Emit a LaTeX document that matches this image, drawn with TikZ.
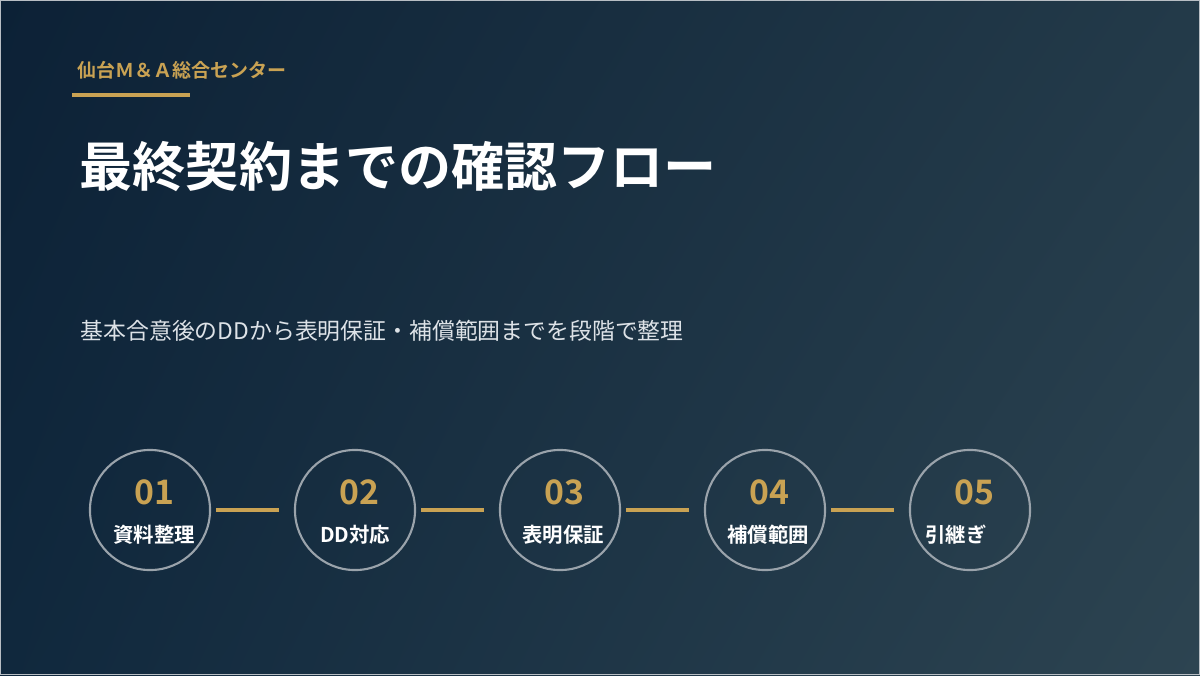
\documentclass[tikz,border=0pt]{standalone}
\usepackage{fontspec}
\setmainfont{Noto Sans CJK JP}[BoldFont={Noto Sans CJK JP Bold}]
\usetikzlibrary{positioning,shadings}

\definecolor{bgtl}{HTML}{0C2136}
\definecolor{bgtr}{HTML}{233A49}
\definecolor{bgbl}{HTML}{10283D}
\definecolor{bgbr}{HTML}{2D4451}
\definecolor{gold}{HTML}{C9A253}
\definecolor{ringgray}{HTML}{9AA3AB}
\definecolor{subtext}{HTML}{DDE2E7}

\tikzset{
  step circle/.style={circle, draw=ringgray, line width=0.6pt, minimum size=1.2cm, inner sep=0pt},
  step num/.style={text=gold, font=\bfseries\fontsize{9.6pt}{10pt}\selectfont},
  step label/.style={text=white, font=\bfseries\fontsize{5.8pt}{7pt}\selectfont},
  link/.style={draw=gold, line width=1.15pt}
}

\begin{document}
\begin{tikzpicture}[x=0.01cm, y=-0.01cm]
         \useasboundingbox (0,0) rectangle (1200,675);
         \shade[upper left=bgtl, upper right=bgtr, lower left=bgbl, lower right=bgbr] (0,0) rectangle (1200,675);
         \draw[ringgray!70, line width=0.3pt] (0.5,0.5) rectangle (1199.5,674.5);
         % header
         \node[anchor=west, text=gold, font=\bfseries\fontsize{5.4pt}{6pt}\selectfont, inner sep=0pt] (brand) at (77, 70) {仙台Ｍ＆Ａ総合センター};
         \draw[gold, line width=1.15pt] (72, 95) -- (190, 95);
         \node[anchor=west, text=white, font=\bfseries\fontsize{15.1pt}{17pt}\selectfont, inner sep=0pt] (title) at (79, 167) {最終契約までの確認フロー};
         \node[anchor=west, text=subtext, font=\fontsize{6.5pt}{7pt}\selectfont, inner sep=0pt] (subtitle) at (80, 331) {基本合意後のDDから表明保証・補償範囲までを段階で整理};
         % steps
         \node[step circle] (S1) at (150, 510) {};
         \node[step circle] (S2) at (355, 510) {};
         \node[step circle] (S3) at (560, 510) {};
         \node[step circle] (S4) at (765, 510) {};
         \node[step circle] (S5) at (970, 510) {};
         \node[step num] (N1) at (154, 492) {01};
         \node[step num] (N2) at (359, 492) {02};
         \node[step num] (N3) at (564, 492) {03};
         \node[step num] (N4) at (769, 492) {04};
         \node[step num] (N5) at (974, 492) {05};
         \node[step label] (L1) at (154, 535) {資料整理};
         \node[step label] (L2) at (355, 535) {DD対応};
         \node[step label] (L3) at (563, 535) {表明保証};
         \node[step label] (L4) at (768, 535) {補償範囲};
         \node[step label] (L5) at (956, 535) {引継ぎ};
         \draw[link] ([xshift=0.05cm]S1.east) -- ([xshift=-0.15cm]S2.west);
         \draw[link] ([xshift=0.05cm]S2.east) -- ([xshift=-0.15cm]S3.west);
         \draw[link] ([xshift=0.05cm]S3.east) -- ([xshift=-0.15cm]S4.west);
         \draw[link] ([xshift=0.05cm]S4.east) -- ([xshift=-0.15cm]S5.west);
\end{tikzpicture}
\end{document}
